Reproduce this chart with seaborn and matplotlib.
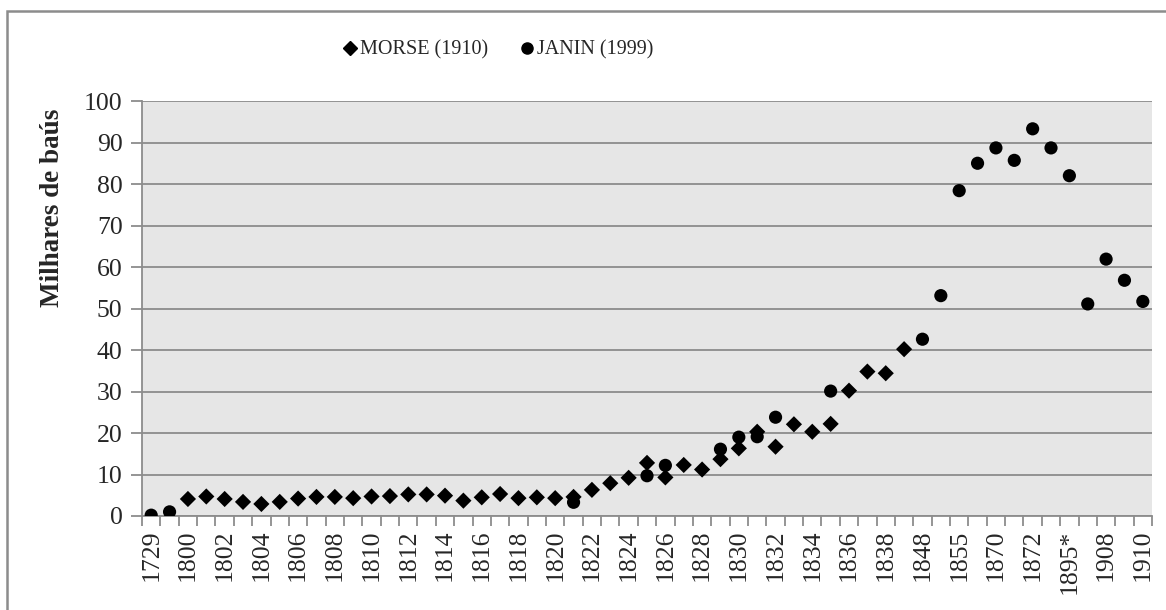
import pandas as pd
import seaborn as sns
import matplotlib.pyplot as plt
from matplotlib.lines import Line2D
from matplotlib.patches import Rectangle

# categorias do eixo x (na ordem do gráfico)
anos = ["1729", "1767", "1800", "1801", "1802", "1803", "1804", "1805", "1806",
        "1807", "1808", "1809", "1810", "1811", "1812", "1813", "1814", "1815",
        "1816", "1817", "1818", "1819", "1820", "1821", "1822", "1823", "1824",
        "1825", "1826", "1827", "1828", "1829", "1830", "1831", "1832", "1833",
        "1834", "1835", "1836", "1837", "1838", "1839", "1848", "1850", "1855",
        "1860", "1870", "1871", "1872", "1880", "1895*", "1905", "1908", "1909",
        "1910"]

# MORSE (1910), milhares de baús
morse_anos = ["1800", "1801", "1802", "1803", "1804", "1805", "1806", "1807",
              "1808", "1809", "1810", "1811", "1812", "1813", "1814", "1815",
              "1816", "1817", "1818", "1819", "1820", "1821", "1822", "1823",
              "1824", "1825", "1826", "1827", "1828", "1829", "1830", "1831",
              "1832", "1833", "1834", "1835", "1836", "1837", "1838", "1839"]
morse_valores = [4.1, 4.7, 4.1, 3.4, 2.9, 3.4, 4.2, 4.6, 4.6, 4.3, 4.7, 4.8,
                 5.2, 5.2, 4.9, 3.7, 4.5, 5.3, 4.3, 4.5, 4.3, 4.6, 6.3, 7.9,
                 9.2, 12.8, 9.3, 12.3, 11.2, 13.7, 16.3, 20.3, 16.7, 22.1,
                 20.3, 22.2, 30.2, 34.8, 34.4, 40.2]

# JANIN (1999)
janin_anos = ["1729", "1767", "1821", "1825", "1826", "1829", "1830", "1831",
              "1832", "1835", "1848", "1850", "1855", "1860", "1870", "1871",
              "1872", "1880", "1895*", "1905", "1908", "1909", "1910"]
janin_valores = [0.2, 1.0, 3.3, 9.7, 12.2, 16.1, 19.0, 19.1, 23.8, 30.1, 42.6,
                 53.1, 78.4, 85.0, 88.7, 85.7, 93.3, 88.7, 82.0, 51.1, 61.9,
                 56.8, 51.7]

MORSE = "MORSE (1910)"
JANIN = "JANIN (1999)"

df = pd.concat([
    pd.DataFrame({"ano": morse_anos, "valor": morse_valores, "fonte": MORSE}),
    pd.DataFrame({"ano": janin_anos, "valor": janin_valores, "fonte": JANIN}),
])
df["ano"] = pd.Categorical(df["ano"], categories=anos, ordered=True)

sns.set_style("white")
plt.rcParams["font.family"] = ["Liberation Serif", "DejaVu Serif"]

fig = plt.figure(figsize=(11.66, 6.10), dpi=100)
ax = fig.add_axes([0.1218, 0.1541, 0.8662, 0.6803])
ax.set_facecolor("#e6e6e6")

sns.scatterplot(data=df, x="ano", y="valor", hue="fonte", style="fonte",
                size="fonte",
                palette={MORSE: "black", JANIN: "black"},
                markers={MORSE: "D", JANIN: "o"},
                sizes={MORSE: 68, JANIN: 90},
                linewidth=0, legend=False, ax=ax, zorder=3)

cinza = "#8c8c8c"
ax.set_ylim(0, 100)
ax.set_yticks(range(0, 101, 10))
ax.yaxis.grid(True, color=cinza, linewidth=1.3)
ax.set_axisbelow(True)

ax.set_xlim(-0.5, len(anos) - 0.5)
ax.set_xticks(range(0, len(anos), 2))
ax.set_xticklabels(anos[::2], rotation=90)
ax.set_xticks([i - 0.5 for i in range(len(anos) + 1)], minor=True)
ax.tick_params(axis="x", which="major", length=0, pad=10, labelsize=18.5)
ax.tick_params(axis="x", which="minor", length=7, width=1.3, color=cinza,
               direction="out", bottom=True)
ax.tick_params(axis="y", length=8, width=1.3, color=cinza, direction="out",
               left=True, pad=6, labelsize=18.5)

for lado in ["top", "right"]:
    ax.spines[lado].set_visible(False)
for lado in ["left", "bottom"]:
    ax.spines[lado].set_color(cinza)
    ax.spines[lado].set_linewidth(1.3)

ax.set_xlabel("")
ax.set_ylabel("Milhares de baús", fontsize=19.5, fontweight="bold")
ax.yaxis.set_label_coords(-0.076, 0.742)

handles = [
    Line2D([], [], marker="D", color="black", linestyle="none", markersize=7),
    Line2D([], [], marker="o", color="black", linestyle="none", markersize=8),
]
fig.legend(handles, [MORSE, JANIN], loc="center", ncol=2,
           bbox_to_anchor=(0.426, 0.918), frameon=False, fontsize=14.5,
           handletextpad=0.0, columnspacing=1.4, handlelength=1.0)

# moldura do gráfico (lados direito e inferior ficam fora da imagem)
fig.patches.append(Rectangle((0.006, -0.05), 1.1, 1.032,
                             transform=fig.transFigure, fill=False,
                             edgecolor=cinza, linewidth=1.8))

plt.savefig("out.png", dpi=100)
